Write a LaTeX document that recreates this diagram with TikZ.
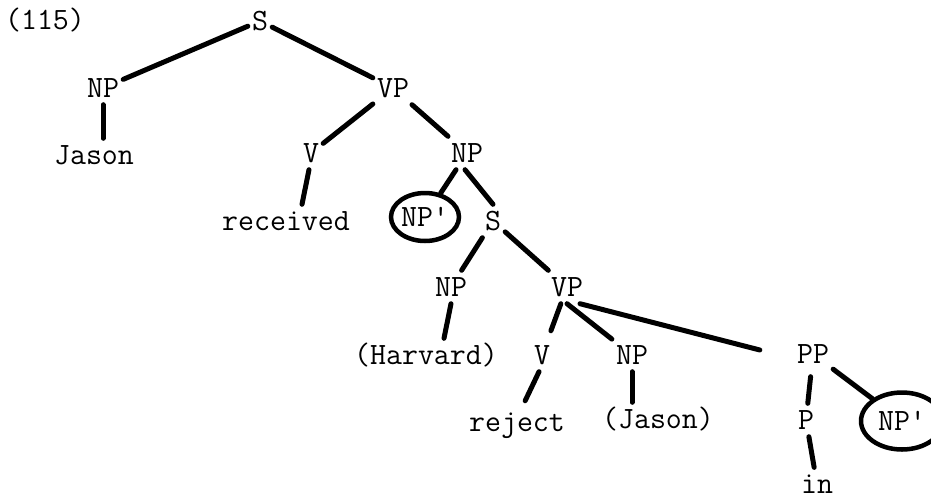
\documentclass[tikz,border=0pt]{standalone}
\usepackage{fontspec}
\usetikzlibrary{shapes.geometric}
\begin{document}
\begin{tikzpicture}[x=1pt,y=-1pt,
  lbl/.style={font=\ttfamily\fontsize{31}{31}\selectfont\addfontfeatures{FakeBold=2.5},
    text height=19pt, text depth=0pt, inner xsep=4pt, inner ysep=7pt},
  circ/.style={lbl, ellipse, draw, line width=4.5pt, inner sep=0pt},
  br/.style={line width=5pt, line cap=round}]
\useasboundingbox (0,0) rectangle (931,501);
% labels
\node[lbl] (num) at (45,20) {(115)};
\node[lbl] (S1) at (260,21) {S};
\node[lbl] (NP1) at (103,88) {NP};
\node[lbl] (VP1) at (393,88) {VP};
\node[lbl] (Jason) at (94,155) {Jason};
\node[lbl] (V1) at (311,153) {V};
\node[lbl] (NP2) at (467,153) {NP};
\node[lbl] (rec) at (286,221) {received};
\node[circ, minimum width=68pt, minimum height=48pt] (NPc1) at (425,217) {NP\textquotesingle};
\node[lbl] (S2) at (493,221) {S};
\node[lbl] (NP3) at (451,287) {NP};
\node[lbl] (VP2) at (567,287) {VP};
\node[lbl] (Harv) at (426,355) {(Harvard)};
\node[lbl] (V2) at (542,355) {V};
\node[lbl] (NP4) at (632,355) {NP};
\node[lbl] (PP) at (813,354) {PP};
\node[lbl] (rej) at (517,422) {reject};
\node[lbl] (Jas) at (658,419) {(Jason)};
\node[lbl] (P) at (806,420) {P};
\node[circ, minimum width=82pt, minimum height=57pt] (NPc2) at (902,421) {NP\textquotesingle};
\node[lbl, inner ysep=2pt] (nin) at (817,484) {in};
% branches
\draw[br] (S1) -- (NP1);
\draw[br] (S1) -- (VP1);
\draw[br] (NP1.south) -- (NP1.south |- Jason.north);
\draw[br] (VP1) -- (V1);
\draw[br] (VP1) -- (NP2);
\draw[br] ([xshift=-2pt]V1.south) -- ([xshift=16pt]rec.north);
\draw[br] (NP2) -- (NPc1);
\draw[br] ([xshift=-2pt]NP2.south) -- (S2.north);
\draw[br] (S2) -- (NP3);
\draw[br] (S2) -- (VP2);
\draw[br] (NP3.south) -- ([xshift=18pt]Harv.north);
\draw[br, shorten >=8pt] (VP2) -- (V2);
\draw[br] (VP2.south) -- (NP4);
\draw[br] ([xshift=13pt]VP2.south) -- ([xshift=-33pt,yshift=4pt]PP.west);
\draw[br, shorten >=5pt] ([xshift=-3pt]V2.south) -- ([xshift=6pt]rej.north);
\draw[br] (NP4.south) -- (NP4.south |- Jas.north);
\draw[br, shorten <=6pt] (PP) -- (P);
\draw[br] (PP) -- (NPc2);
\draw[br, shorten >=5pt] (P) -- (nin);
\end{tikzpicture}
\end{document}
